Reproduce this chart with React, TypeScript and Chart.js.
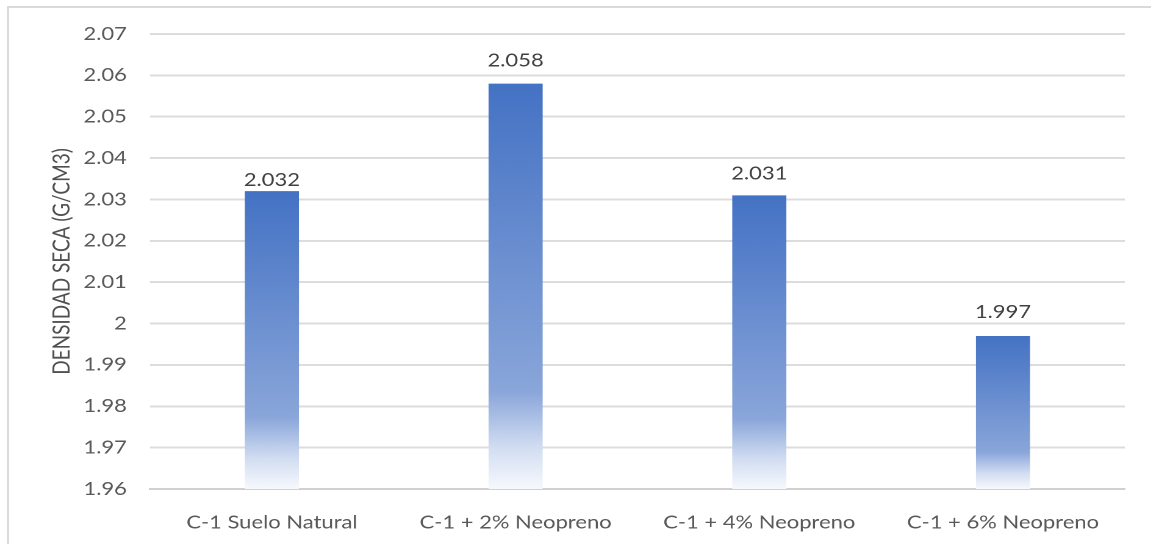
import React, { useEffect, useRef } from "react";
import { Chart, registerables } from "chart.js";

Chart.register(...registerables);

// Data
const categories: string[] = [
  "C-1 Suelo Natural",
  "C-1 + 2% Neopreno",
  "C-1 + 4% Neopreno",
  "C-1 + 6% Neopreno",
];
const densidadSeca: number[] = [2.032, 2.058, 2.031, 1.997];
const yMin = 1.96;
const yMax = 2.07;
const yStep = 0.01;
const yTitle = "DENSIDAD SECA (G/CM3)";

// Page / drawing geometry
const PAGE_W = 1151;
const PAGE_H = 544;
const SX = 1.22; // horizontal stretch applied to the drawing
const W = Math.round(PAGE_W / SX);
const FONT = "Lato, 'Open Sans', sans-serif";

const makeGradient = (ctx: CanvasRenderingContext2D, top: number, bottom: number) => {
  const g = ctx.createLinearGradient(0, top, 0, bottom);
  g.addColorStop(0, "#4472C4");
  g.addColorStop(0.76, "#8AA6DA");
  g.addColorStop(0.9, "#D3DEF2");
  g.addColorStop(1, "#F7F9FD");
  return g;
};

const valueLabels = {
  id: "valueLabels",
  afterDatasetsDraw(chart: any, _args: any, opts: any) {
    const ctx = chart.ctx as CanvasRenderingContext2D;
    const meta = chart.getDatasetMeta(0);
    const data = chart.data.datasets[0].data as number[];
    ctx.save();
    ctx.font = `18px ${FONT}`;
    ctx.fillStyle = "#404040";
    ctx.textAlign = "center";
    ctx.textBaseline = "alphabetic";
    meta.data.forEach((el: any, i: number) => {
      const lift = (opts.lifts && opts.lifts[i]) ?? 17;
      ctx.fillText(data[i].toFixed(3), el.x, el.y - lift);
    });
    ctx.restore();
  },
};

const axisTitle = {
  id: "axisTitle",
  afterDraw(chart: any, _args: any, opts: any) {
    const ctx = chart.ctx as CanvasRenderingContext2D;
    const area = chart.chartArea;
    ctx.save();
    ctx.translate(opts.x, (area.top + area.bottom) / 2);
    ctx.rotate(-Math.PI / 2);
    ctx.font = `19px ${FONT}`;
    ctx.fillStyle = "#505050";
    ctx.textAlign = "center";
    ctx.textBaseline = "middle";
    ctx.fillText(opts.text, 0, 0);
    ctx.restore();
  },
};

export default function App() {
  const canvasRef = useRef<HTMLCanvasElement | null>(null);

  useEffect(() => {
    const canvas = canvasRef.current;
    if (!canvas) return;
    const chart = new Chart(canvas, {
      type: "bar",
      data: {
        labels: categories,
        datasets: [
          {
            data: densidadSeca,
            backgroundColor: (c: any) => {
              const ch = c.chart;
              const y = ch.scales?.y;
              if (!y || c.dataIndex === undefined) return "#4472C4";
              const v = densidadSeca[c.dataIndex];
              const top = y.getPixelForValue(v);
              const bottom = y.getPixelForValue(yMin);
              if (!Number.isFinite(top) || !Number.isFinite(bottom) || bottom <= top) return "#4472C4";
              return makeGradient(ch.ctx, top, bottom);
            },
            borderWidth: 0,
            barPercentage: 0.222,
            categoryPercentage: 1,
          },
        ],
      },
      options: {
        responsive: false,
        animation: false,
        devicePixelRatio: 2,
        layout: { padding: { top: 34, right: 21, bottom: 0, left: 0 } },
        plugins: {
          legend: { display: false },
          tooltip: { enabled: false },
          valueLabels: { lifts: [5, 17, 16, 18] },
          axisTitle: { x: 51, text: yTitle },
        } as any,
        scales: {
          x: {
            grid: { display: false },
            border: { display: true, color: "#d0d0d0", width: 2 },
            ticks: {
              color: "#595959",
              font: { family: FONT, size: 18 },
              padding: 15,
              maxRotation: 0,
            },
            afterFit: (s: any) => {
              s.height = 55;
            },
          },
          y: {
            min: yMin,
            max: yMax,
            grid: { color: "#dcdcdc", lineWidth: 2, drawTicks: false },
            border: { display: false },
            ticks: {
              stepSize: yStep,
              color: "#595959",
              font: { family: FONT, size: 18 },
              padding: 19,
              callback: (v: any) => String(parseFloat(Number(v).toFixed(2))),
            },
            afterFit: (s: any) => {
              s.width = 123;
            },
          },
        },
      },
      plugins: [valueLabels, axisTitle],
    });
    return () => chart.destroy();
  }, []);

  return (
    <div
      style={{
        position: "fixed",
        left: 0,
        top: 0,
        width: PAGE_W,
        height: PAGE_H,
        overflow: "hidden",
        background: "#ffffff",
      }}
    >
      <div
        style={{
          position: "absolute",
          left: 7,
          top: 6,
          right: -10,
          bottom: -10,
          borderLeft: "2px solid #d9d9d9",
          borderTop: "2px solid #d9d9d9",
        }}
      />
      <div
        style={{
          position: "absolute",
          left: 0,
          top: 0,
          width: W,
          height: PAGE_H,
          transform: `scaleX(${SX})`,
          transformOrigin: "0 0",
        }}
      >
        <canvas
          ref={canvasRef}
          width={W}
          height={PAGE_H}
          style={{ width: W, height: PAGE_H, display: "block" }}
        />
      </div>
    </div>
  );
}
